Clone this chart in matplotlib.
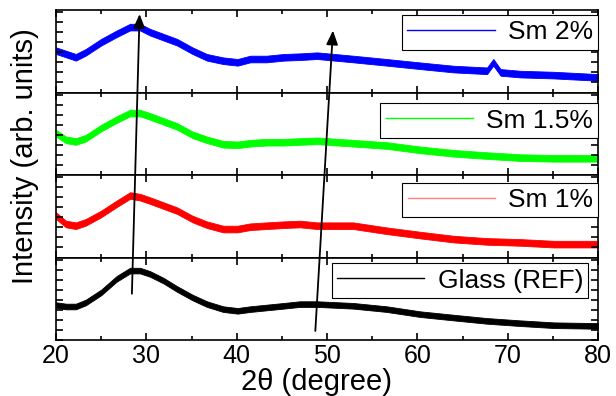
import matplotlib
matplotlib.use("Agg")
import matplotlib.pyplot as plt
from matplotlib.lines import Line2D
from matplotlib.patches import ConnectionPatch
from matplotlib.ticker import MultipleLocator

plt.rcParams["font.family"] = ["Liberation Sans", "DejaVu Sans"]

two_theta = [20, 21.1, 22.2, 23.3, 25, 26.7, 28.2, 29.3, 30.4, 31.9, 33.4, 35.1,
             36.7, 38.5, 40.1, 41.5, 43.3, 45.2, 47, 48.9, 52.9, 56.6, 60.3, 64,
             67.7, 71.4, 75.1, 80]
two_theta_sm2 = [20, 21.1, 22.2, 23.3, 25, 26.7, 28.2, 29.3, 30.4, 31.9, 33.4, 35.1,
                 36.7, 38.5, 40.1, 41.5, 43.3, 45.2, 47, 48.9, 52.9, 56.6, 60.3, 64,
                 67.7, 68.4, 69.2, 71.4, 75.1, 80]

# intensities (arb. units), one panel each
sm2 = [41.6, 38.3, 35, 40, 50, 58.3, 65, 65, 60, 55, 50, 41.6, 35, 31.6, 30, 33.3,
       33.3, 35, 35.6, 36.6, 33.3, 30, 26.6, 23.3, 21.6, 30, 20, 18.3, 17.3, 15]
sm15 = [41.6, 35, 33.3, 36.6, 46.6, 55, 61.6, 61.6, 58.3, 53.3, 48.3, 40, 35, 30.6,
        30, 31.6, 32.6, 32.6, 33.3, 34, 31.6, 29.3, 25, 21.6, 19.3, 17.3, 16.6, 16.6]
sm1 = [41.6, 33.3, 31.6, 35, 43.3, 53.3, 61.6, 60, 56.6, 51.6, 46.6, 38.3, 32.6, 28.3,
       28.3, 30.6, 31.6, 32.6, 33.3, 31.6, 31.6, 26.6, 22.3, 18.3, 16, 15, 13.3, 13.3]
glass = [34.7, 33.3, 33.3, 37.3, 47.3, 60.7, 69, 69, 65.7, 59, 50.7, 42.3, 35.7, 30.7,
         29, 30.7, 32.3, 34, 35.7, 35.7, 34, 30.7, 25.7, 22.3, 19, 16.7, 14.7, 14]

labels = ["Sm 2%", "Sm 1.5%", "Sm 1%", "Glass (REF)"]

fig, axes = plt.subplots(4, 1, figsize=(6.16, 3.96), dpi=100, sharex=True)
fig.subplots_adjust(left=0.0909, right=0.971, bottom=0.1414, top=0.9747, hspace=0)

traces = [(two_theta_sm2, sm2, "#0000ff", "#0000ff", 3.3),
          (two_theta, sm15, "#00ff00", "#00ff00", 3.3),
          (two_theta, sm1, "#ff0000", "#ff8080", 3.3),
          (two_theta, glass, "black", "black", 2.8)]
# legend anchors (upper right corner, axes coords)
anchors = [(1.0, 0.94), (1.0, 0.87), (1.0, 0.905), (0.982, 0.93)]

for ax, (x, y, col, lcol, hw), lab, anc in zip(axes, traces, labels, anchors):
    lo = [v - hw for v in y]
    hi = [v + hw for v in y]
    ax.fill_between(x, lo, hi, color=col, lw=0.6, edgecolor=col)
    ax.set_xlim(20, 80)
    ax.set_ylim(0, 82)
    ax.xaxis.set_major_locator(MultipleLocator(10))
    ax.xaxis.set_minor_locator(MultipleLocator(5))
    ax.yaxis.set_major_locator(MultipleLocator(10))
    ax.tick_params(which="both", direction="in", top=True, right=True,
                   labelleft=False, width=1.2)
    ax.tick_params(axis="x", which="major", length=5)
    ax.tick_params(axis="x", which="minor", length=3)
    ax.tick_params(axis="y", which="major", length=5)
    for s in ax.spines.values():
        s.set_linewidth(1.2)
    h = Line2D([], [], color=lcol, lw=1)
    leg = ax.legend([h], [lab], loc="upper right", bbox_to_anchor=anc,
                    fontsize=19, frameon=True, fancybox=False, framealpha=1,
                    edgecolor="black", borderpad=0.2, handlelength=3.3,
                    handletextpad=0.5, borderaxespad=0)
    leg.get_frame().set_linewidth(0.8)

axes[-1].tick_params(axis="x", labelsize=18, pad=3)
axes[-1].set_xlabel("2θ (degree)", fontsize=21)
axes[-1].xaxis.set_label_coords(0.48, -0.68)
axes[-1].xaxis.label.set_va("bottom")
fig.text(0.04, 0.606, "Intensity (arb. units)", rotation=90, fontsize=21,
         ha="center", va="center")

# peak-shift arrows spanning the panels
for tail, tip in [((28.4, 46), (29.25, 78)), ((48.7, 9), (50.65, 61.6))]:
    arr = ConnectionPatch(xyA=tail, coordsA=axes[3].transData,
                          xyB=tip, coordsB=axes[0].transData,
                          arrowstyle="-|>,head_length=0.6,head_width=0.25",
                          color="black", lw=1.3, mutation_scale=14)
    fig.add_artist(arr)

fig.savefig("out.png", dpi=100)
